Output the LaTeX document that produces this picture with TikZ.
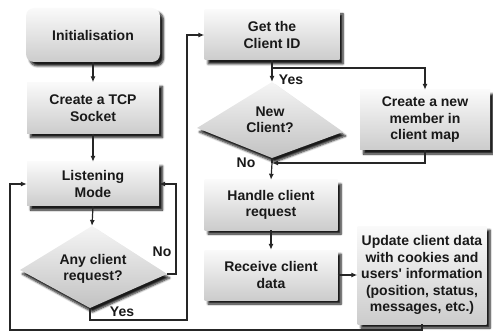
\documentclass[tikz,border=0pt]{standalone}
\usepackage{fontspec}
\setmainfont{Liberation Sans}
\usetikzlibrary{arrows.meta,shadows.blur}
\begin{document}
\begin{tikzpicture}[x=1pt,y=-1pt,
  txt/.style={font=\bfseries\fontsize{14}{16.5}\selectfont, text=black!90, align=center, inner sep=1pt},
  box/.style={txt, rectangle, draw=none, top color=black!2, bottom color=black!20,
    blur shadow={shadow xshift=3.5pt, shadow yshift=-4pt, shadow blur steps=6, shadow opacity=90}},
  dfill/.style={draw=none, top color=black!4, bottom color=black!24,
    blur shadow={shadow xshift=2.5pt, shadow yshift=-4pt, shadow blur steps=6, shadow opacity=90}},
  lbl/.style={font=\bfseries\fontsize{14}{16.5}\selectfont, text=black!90, inner sep=1pt},
  arr/.style={draw=black!85, line width=1.2pt, -{Latex[length=6pt,width=5pt]}},
  ln/.style={draw=black!85, line width=1.2pt}
]
\useasboundingbox (0,0) rectangle (493,334);

% left column
\node[box, minimum width=134pt, minimum height=54pt, rounded corners=8pt] (init) at (93,35) {Initialisation};
\node[box, minimum width=132pt, minimum height=51pt] (tcp) at (93,108) {Create a TCP\\Socket};
\node[box, minimum width=132pt, minimum height=44pt] (listen) at (93,184) {Listening\\Mode};

\coordinate (d1t) at (92,226);
\coordinate (d1r) at (167,274);
\coordinate (d1b) at (90,308);
\coordinate (d1l) at (20,270);
\path[dfill] (d1t) -- (d1r) -- (d1b) -- (d1l) -- cycle;
\node[txt] (any) at (93,269) {Any client\\request?};

% middle column
\node[box, minimum width=135pt, minimum height=50pt] (getid) at (272,35) {Get the\\Client ID};

\coordinate (d2t) at (272,82);
\coordinate (d2r) at (343,132);
\coordinate (d2b) at (272,158);
\coordinate (d2l) at (197,128);
\path[dfill] (d2t) -- (d2r) -- (d2b) -- (d2l) -- cycle;
\node[txt] (newc) at (270,120) {New\\Client?};

\node[box, minimum width=130pt, minimum height=60pt] (member) at (425,120) {Create a new\\member in\\client map};
\node[box, minimum width=133pt, minimum height=50pt] (handle) at (271,205) {Handle client\\request};
\node[box, minimum width=133pt, minimum height=50pt] (receive) at (271,275) {Receive client\\data};
\node[box, minimum width=129pt, minimum height=98pt, inner sep=0pt] (update) at (422,275) {Update client data\\with cookies and\\users\textquotesingle{} information\\(position, status,\\messages, etc.)};

% labels
\node[lbl] (no1) at (162,252) {No};
\node[lbl] (yes1) at (122,312) {Yes};
\node[lbl] (yes2) at (291,80) {Yes};
\node[lbl] (no2) at (246,163) {No};

% connectors
\coordinate (rjoin) at (187,320);
\coordinate (ob) at (10,330);
\coordinate (br) at (272,68);
\coordinate (nj) at (272,163);

\draw[arr] (init) -- (tcp);
\draw[arr] (tcp) -- (listen);
\draw[arr] (listen.south) -- (d1t);
\draw[arr] (d1r) -- ++(9,0) |- (listen.east);
\draw[arr] (d1b) |- (rjoin) |- (getid.west);
\draw[arr] (update.south) |- (ob) |- (listen.west);
\draw[arr] (getid.south) -- (d2t);
\draw[arr] (br) -| (member.north);
\draw[ln] (d2b) -- (nj);
\draw[arr] (member.south) |- (nj);
\draw[arr] (nj) -- (handle.north);
\draw[arr] (handle) -- (receive);
\draw[arr] (receive.east) -- (update.west);
\end{tikzpicture}
\end{document}
